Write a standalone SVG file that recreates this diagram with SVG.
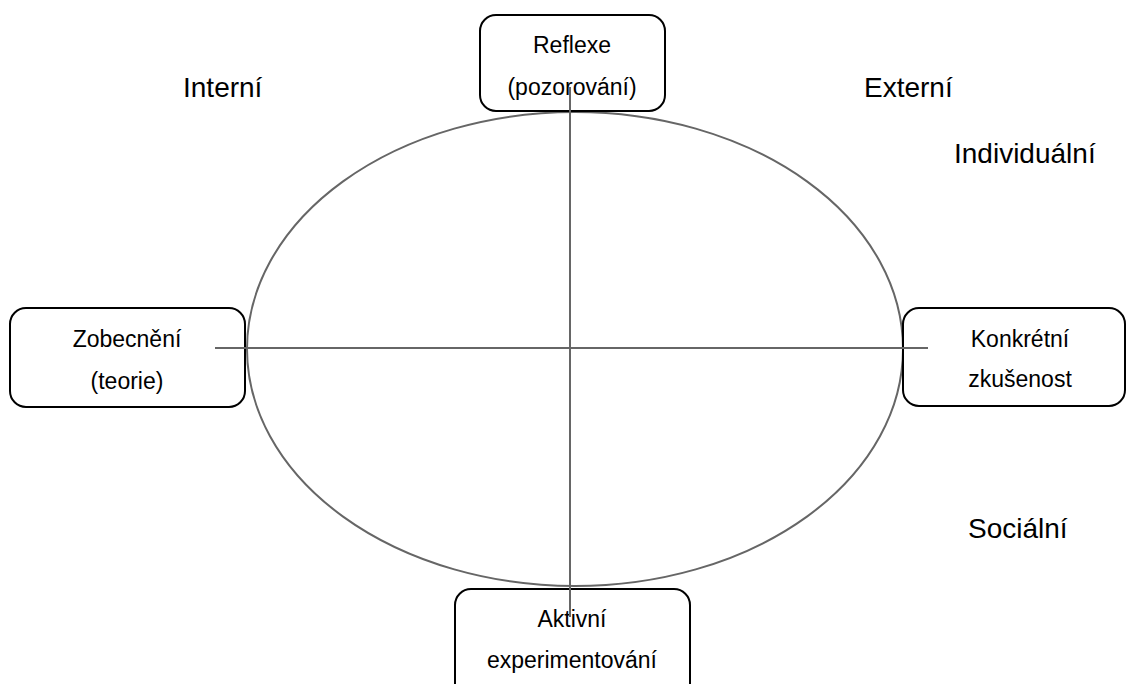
<svg xmlns="http://www.w3.org/2000/svg" width="1127" height="684" viewBox="0 0 1127 684">
<style>
.box{fill:#fff;stroke:#000;stroke-width:2}
.t{font-family:"Liberation Sans",Arial,sans-serif;font-size:23px;fill:#000;text-anchor:middle}
.lbl{font-family:"Liberation Sans",Arial,sans-serif;font-size:28px;fill:#000}
.ln{stroke:#666;stroke-width:2;fill:none}
</style>
<rect width="1127" height="684" fill="#fff"/>
<g id="ellipse"><ellipse cx="575" cy="349" rx="328" ry="237" fill="none" stroke="#666" stroke-width="2"/></g>
<g id="node-reflexe"><rect class="box" x="480" y="15" width="185" height="96" rx="16"/><text class="t" x="572" y="53">Reflexe</text><text class="t" x="572" y="95">(pozorování)</text></g>
<g id="node-zobecneni"><rect class="box" x="10" y="308" width="235" height="99" rx="16"/><text class="t" x="127" y="347">Zobecnění</text><text class="t" x="127" y="389">(teorie)</text></g>
<g id="node-konkretni"><rect class="box" x="903" y="308" width="222" height="98" rx="16"/><text class="t" x="1020" y="347">Konkrétní</text><text class="t" x="1020" y="387">zkušenost</text></g>
<g id="node-aktivni"><rect class="box" x="455" y="589" width="235" height="110" rx="16"/><text class="t" x="572" y="627">Aktivní</text><text class="t" x="572" y="668">experimentování</text></g>
<g id="connectors"><line class="ln" x1="570" y1="87" x2="570" y2="617"/><line class="ln" x1="215" y1="348" x2="928" y2="348"/></g>
<g id="labels"><text class="lbl" x="183" y="97">Interní</text><text class="lbl" x="864" y="97">Externí</text><text class="lbl" x="954" y="163">Individuální</text><text class="lbl" x="968" y="538">Sociální</text></g>
</svg>
